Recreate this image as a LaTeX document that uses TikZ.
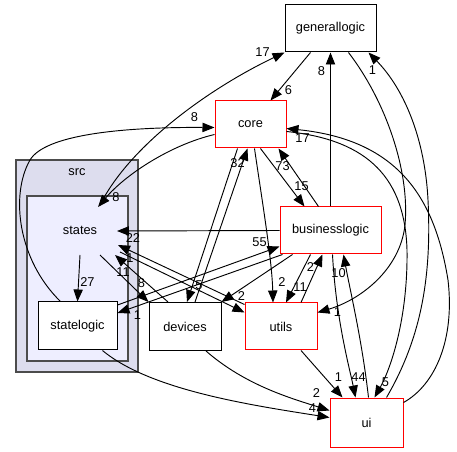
\documentclass[tikz,border=0pt]{standalone}
\usepackage{fontspec}
\setmainfont{Liberation Sans}
\usepackage{tikz}
\usetikzlibrary{arrows.meta}
\usetikzlibrary{calc}
\usetikzlibrary{positioning}
\definecolor{srcfill}{HTML}{DDDDEE}
\definecolor{statesfill}{HTML}{EEEEFF}
\tikzstyle{dir} = [draw, fill=white, rectangle, line width=0.75pt,
    minimum height=35.25pt, inner sep=0pt]
\tikzstyle{reddir} = [dir, draw=red]
\tikzstyle{cluster} = [draw=black!70, rectangle, line width=1pt, inner sep=0pt]
\tikzstyle{lbl} = [inner sep=0pt]

\begin{document}
\begin{tikzpicture}[x=0.75pt, y=-0.75pt, >={Triangle[length=9pt,width=7pt]},
    line width=0.7pt, font=\fontsize{9.6}{11}\selectfont]
    \useasboundingbox (0,0) rectangle (457,452);

    % clusters
    \node[cluster, fill=srcfill, minimum width=91.5pt, minimum height=159pt] (src) at (77,266) {};
    \node (srclabel) at (77,172) {src};
    \node[cluster, fill=statesfill, minimum width=75.75pt, minimum height=123.75pt] (statesbox) at (77.5,278.5) {};
    \node (states) at (80,230) {states};

    % directories
    \node[dir, minimum width=68.25pt] (generallogic) at (330.5,28.5) {generallogic};
    \node[reddir, minimum width=53.25pt] (core) at (250.5,124.5) {core};
    \node[reddir, minimum width=75.75pt] (businesslogic) at (330.5,230.5) {businesslogic};
    \node[reddir, minimum width=54pt] (utils) at (281,326.5) {utils};
    \node[reddir, minimum width=54.75pt, minimum height=36.75pt] (ui) at (366.5,422.5) {ui};
    \node[dir, minimum width=54pt, minimum height=36pt] (devices) at (185,326.5) {devices};
    \node[dir, minimum width=59.25pt, minimum height=36pt] (statelogic) at (77.5,326) {statelogic};

    % dependencies
    \draw[->] ($(states)+(20,-25)$) .. controls (130,145) and (210,88) .. (generallogic.south west) node[lbl, shift={(-22,0)}] {17};
    \draw[->] ($(statelogic.north)+(-17,0)$) .. controls (18,260) and (10,195) .. (30,160) .. controls (45,135) and (120,127) .. ($(core.west)+(0,3)$) node[lbl, shift={(-20,-10)}] {8};
    \draw[->] ($(core.west)+(0,10)$) .. controls (170,145) and (125,175) .. ($(states)+(18,-23)$) node[lbl, shift={(18,-10)}] {8};
    \draw[->] ($(generallogic.south)+(-20,0)$) -- ($(core.north)+(20,0)$) node[lbl, shift={(18,-10)}] {6};
    \draw[->] (businesslogic.north) -- (generallogic.south) node[lbl, shift={(-9,19)}] {8};
    \draw[->] ($(ui.north)+(20,0)$) .. controls (420,340) and (432,280) .. (428,200) .. controls (425,140) and (405,90) .. ($(generallogic.south)+(38,0)$) node[lbl, shift={(4,18)}] {1};
    \draw[->] ($(ui.east)+(0,-20)$) .. controls (435,385) and (455,340) .. (448,280) .. controls (435,200) and (400,140) .. ($(core.east)+(0,4)$) node[lbl, shift={(16,10)}] {17};
    \draw[->] ($(core.east)+(0,7)$) .. controls (370,140) and (405,180) .. (407,250) .. controls (408,320) and (390,370) .. ($(ui.north)+(8,0)$) node[lbl, shift={(11,-15)}] {5};
    \draw[->] ($(generallogic.south)+(18,0)$) .. controls (385,100) and (410,170) .. (405,225) .. controls (400,270) and (360,300) .. ($(utils.east)+(0,-14)$) node[lbl, shift={(20,0)}] {1};
    \draw[->] ($(devices.north)+(10,0)$) -- ($(core.south)+(-3,0)$) node[lbl, shift={(-10,15)}] {32};
    \draw[->] ($(core.south)+(-13,0)$) -- ($(devices.north)+(2,0)$) node[lbl, shift={(12,-17)}] {5};
    \draw[->] ($(core.south)+(4,0)$) .. controls (262,200) and (272,260) .. ($(utils.north)+(-8,0)$) node[lbl, shift={(9,-20)}] {2};
    \draw[->] ($(businesslogic.north)+(-12,0)$) -- ($(core.south)+(28,0)$) node[lbl, shift={(4,18)}] {73};
    \draw[->] ($(core.south)+(10,0)$) -- ($(businesslogic.north)+(-26,0)$) node[lbl, shift={(-3,-20)}] {15};
    \draw[->] (businesslogic.west) -- ($(states)+(37,1)$) node[lbl, shift={(16,7)}] {22};
    \draw[->] ($(statelogic.east)+(0,-21)$) -- ($(businesslogic.west)+(0,16)$) node[lbl, shift={(-20,-4)}] {55};
    \draw[->] ($(businesslogic.south west)+(3,0)$) -- ($(statelogic.east)+(0,-13)$) node[lbl, shift={(20,2)}] {1};
    \draw[->] ($(businesslogic.south west)+(13,0)$) -- (devices.north east) node[lbl, shift={(20,-6)}] {2};
    \draw[->] ($(states)+(40,22)$) -- ($(utils.west)+(0,-14)$);
    \draw[->] ($(utils.north west)+(0,2)$) -- ($(states)+(38,15)$) node[lbl, shift={(12,13)}] {1};
    \draw[->] ($(devices.north)+(-17,0)$) -- ($(states)+(35,25)$) node[lbl, shift={(8,17)}] {11};
    \draw[->] ($(states)+(20,25)$) -- (devices.north west) node[lbl, shift={(-7,-19)}] {8};
    \draw[->] ($(states)+(0,25)$) -- (statelogic.north) node[lbl, shift={(10,-19)}] {27};
    \draw[->] ($(businesslogic.south)+(-20,0)$) -- ($(utils.north)+(5,0)$) node[lbl, shift={(14,-15)}] {11};
    \draw[->] ($(utils.north)+(20,0)$) -- ($(businesslogic.south)+(-8,0)$) node[lbl, shift={(-12,13)}] {2};
    \draw[->] ($(businesslogic.south)+(2,0)$) .. controls (336,320) and (350,370) .. ($(ui.north)+(-11,0)$) node[lbl, shift={(3,-20)}] {44};
    \draw[->] ($(ui.north)+(2,0)$) .. controls (362,340) and (350,290) .. ($(businesslogic.south)+(13,0)$) node[lbl, shift={(-5,19)}] {10};
    \draw[->] ($(utils.south)+(20,0)$) -- ($(ui.north)+(-24,0)$) node[lbl, shift={(-4,-20)}] {1};
    \draw[->] ($(devices.south)+(21,0)$) .. controls (245,385) and (290,398) .. ($(ui.west)+(0,-12)$) node[lbl, shift={(-13,-17)}] {2};
    \draw[->] ($(statelogic.south)+(25,0)$) .. controls (150,390) and (250,405) .. ($(ui.west)+(0,-5)$) node[lbl, shift={(-17,-9)}] {4};
\end{tikzpicture}
\end{document}
